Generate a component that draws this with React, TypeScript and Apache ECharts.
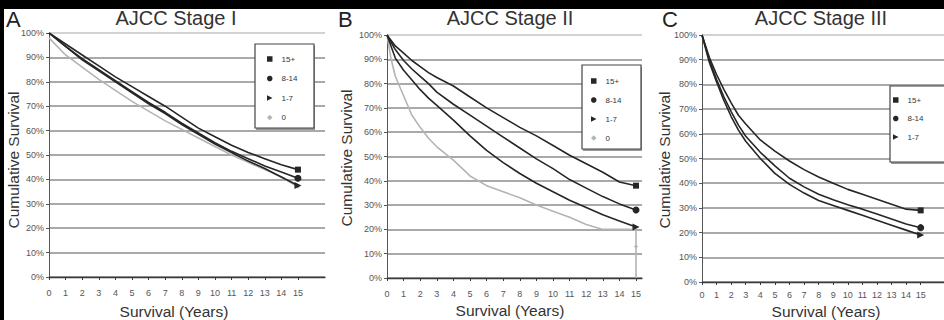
import React, { useEffect, useRef } from "react";
import * as echarts from "echarts";

const groupNames = ["15+", "8-14", "1-7", "0"];
const xTickYears = [0, 1, 2, 3, 4, 5, 6, 7, 8, 9, 10, 11, 12, 13, 14, 15];
const panelTitles = ["AJCC Stage I", "AJCC Stage II", "AJCC Stage III"];
const panelLetters = ["A", "B", "C"];

// Stage I
const stage1Years = [0, 1, 2, 3, 4, 5, 6, 7, 8, 9, 10, 11, 12, 13, 14, 15];
const stage1G15 = [100, 95.5, 91, 86.5, 82, 78, 74, 70, 65.5, 61, 57.5, 54, 51, 48.5, 46, 44];
const stage1G8 = [100, 94.5, 89.5, 85, 80.5, 76, 71.5, 67.5, 63, 59, 55, 51.5, 48.5, 45.5, 43, 40.5];
const stage1G1 = [100, 94.5, 89, 84.5, 80, 75.5, 71, 67, 62.5, 58.5, 54.5, 51, 47.5, 44.5, 41, 37.5];
const stage1G0 = [98, 91, 86, 81, 76.5, 72, 68, 64, 60.5, 57, 53.5, 50, 47, 44, 41, 37];

// Stage II
const stage2Years = [0, 0.5, 1, 1.5, 2, 2.5, 3, 4, 5, 6, 7, 8, 9, 10, 11, 12, 13, 14, 15];
const stage2G15 = [100, 95.5, 92.5, 89.5, 87, 84.5, 82.5, 79, 74.5, 70, 66, 62, 58.5, 54.5, 50.5, 47, 43.5, 39.5, 38];
const stage2G8 = [100, 94, 89.5, 86, 83, 80, 76.5, 71.5, 67, 62.5, 58, 53.5, 49, 45, 40.5, 37, 33.5, 30.5, 28];
const stage2G1 = [100, 90.5, 85.5, 81.5, 77.5, 74, 71, 65, 58.5, 52.5, 47.5, 43, 39, 35.5, 32, 29, 26, 23.5, 21];
const stage2G0Years = [0, 0.25, 0.5, 1, 1.5, 2, 2.5, 3, 4, 5, 6, 7, 8, 9, 10, 11, 12, 13, 14, 15, 15];
const stage2G0 = [100, 90, 83, 75, 67, 62, 57.5, 54, 48.5, 42, 38, 35.5, 33, 30, 27.5, 25, 22, 20, 20, 20, 0];
const stage2G0EndMarker = 13;

// Stage III
const stage3Years = [0, 0.5, 1, 1.5, 2, 2.5, 3, 4, 5, 6, 7, 8, 9, 10, 11, 12, 13, 14, 15];
const stage3G15 = [100, 91, 84, 78, 72.5, 67.5, 64, 57.5, 53, 49, 45.5, 42.5, 40, 37.5, 35.5, 33.5, 31.5, 29.5, 29];
const stage3G8 = [100, 90, 82, 75, 69, 63.5, 59, 52.5, 47, 42, 38.5, 35.5, 33.3, 31.3, 29.5, 27.5, 25.5, 23.5, 22];
const stage3G1 = [100, 89, 81, 73.5, 67, 61.5, 57, 50, 44, 39.5, 36, 33, 31, 29, 27, 25, 23, 21, 19];

const FONT = "'Liberation Sans', Arial, sans-serif";
const DARK = "#262626";
const GRAY = "#b4b4b4";
const TRI = "path://M0,0L10,5L0,10Z";
const groupSymbols = ["rect", "circle", TRI, "diamond"];
const groupColors = [DARK, DARK, DARK, GRAY];
const groupSizes = [6, 7, 7, 4];

const zip = (xs: number[], ys: number[]) => xs.map((x, i) => [x, ys[i]]);

function lineSeries(idx: number, g: number, xs: number[], ys: number[], markLast = true) {
  const pts = zip(xs, ys);
  const last = pts.length - 1;
  return {
    type: "line",
    name: groupNames[g],
    xAxisIndex: idx,
    yAxisIndex: idx,
    symbol: "none",
    showSymbol: true,
    smooth: false,
    z: g === 3 ? 2 : 3,
    itemStyle: { color: groupColors[g] },
    lineStyle: { color: groupColors[g], width: 1.6 },
    data: pts.map((p, i) =>
      i === last && markLast
        ? { value: p, symbol: groupSymbols[g], symbolSize: groupSizes[g] }
        : p
    ),
  };
}

export default function App() {
  const ref = useRef<HTMLDivElement>(null);
  useEffect(() => {
    document.body.style.margin = "0";
    const chart = echarts.init(ref.current!, null, { renderer: "svg" });

    const grids = [
      { left: 49, top: 33, width: 276, height: 244, xmax: 16.63, labelMargin: 11 },
      { left: 387, top: 35, width: 255, height: 243, xmax: 15.36, labelMargin: 11 },
      { left: 702, top: 35, width: 261, height: 247, xmax: 16.6, labelMargin: 8 },
    ];

    const splitColors = ["#8c8c8c", "#8c8c8c", "#8c8c8c", "#8c8c8c", "#8c8c8c", "#8c8c8c", "#8c8c8c", "#8c8c8c", "#8c8c8c", "#8c8c8c", "#c4c4c4"];

    const xAxes = grids.map((g, i) => ({
      type: "value",
      gridIndex: i,
      min: 0,
      max: g.xmax,
      interval: 1,
      splitLine: { show: false },
      axisLine: { show: true, lineStyle: { color: "#3a3a3a", width: 1.3 } },
      axisTick: { show: true, length: 3, customValues: xTickYears, lineStyle: { color: "#3a3a3a" } },
      axisLabel: {
        customValues: xTickYears,
        margin: g.labelMargin,
        fontSize: 9,
        color: "#555",
        fontFamily: FONT,
      },
    }));

    const yAxes = grids.map((g, i) => ({
      type: "value",
      gridIndex: i,
      min: 0,
      max: 100,
      interval: 10,
      splitLine: { show: true, lineStyle: { color: splitColors, width: 1.5 } },
      axisLine: { show: true, lineStyle: { color: "#555", width: 1 } },
      axisTick: { show: true, length: 3, lineStyle: { color: "#555" } },
      axisLabel: { formatter: "{value}%", fontSize: 9, margin: 5, color: "#555", fontFamily: FONT },
    }));

    const series: any[] = [
      lineSeries(0, 3, stage1Years, stage1G0),
      lineSeries(0, 2, stage1Years, stage1G1),
      lineSeries(0, 1, stage1Years, stage1G8),
      lineSeries(0, 0, stage1Years, stage1G15),
      {
        ...lineSeries(1, 3, stage2G0Years, stage2G0, false),
        markPoint: {
          symbol: "diamond",
          symbolSize: 4,
          label: { show: false },
          itemStyle: { color: GRAY },
          data: [{ coord: [15, stage2G0EndMarker] }],
        },
      },
      lineSeries(1, 2, stage2Years, stage2G1),
      lineSeries(1, 1, stage2Years, stage2G8),
      lineSeries(1, 0, stage2Years, stage2G15),
      lineSeries(2, 2, stage3Years, stage3G1),
      lineSeries(2, 1, stage3Years, stage3G8),
      lineSeries(2, 0, stage3Years, stage3G15),
    ];

    const legendDefs = [
      { left: 267, top: 55, gap: 11.5, count: 4 },
      { left: 591, top: 77, gap: 11, count: 4 },
      { left: 893, top: 96, gap: 10.5, count: 3 },
    ];
    const legends = legendDefs.map((l) => ({
      orient: "vertical",
      left: l.left,
      top: l.top,
      padding: 0,
      itemGap: l.gap,
      itemWidth: 5.5,
      itemHeight: 5.5,
      selectedMode: false,
      z: 6,
      textStyle: { fontSize: 8, color: "#333", fontFamily: FONT, padding: [0, 0, 0, 4] },
      data: groupNames.slice(0, l.count).map((n, g) => ({
        name: n,
        icon: groupSymbols[g],
        itemStyle: { color: groupColors[g] },
      })),
    }));

    const legendBoxes = [
      { x: 255, y: 44, w: 59, h: 84 },
      { x: 582, y: 65, w: 59, h: 84 },
      { x: 890, y: 86, w: 70, h: 76 },
    ];

    const titleX = [176, 510, 821];
    const xTitle = [
      [174, 311],
      [510, 310],
      [826, 311],
    ];
    const yTitle = [
      [13, 160],
      [346, 158],
      [664, 160],
    ];
    const letterX = [6, 338, 662];

    const graphic: any[] = [];
    legendBoxes.forEach((b) => {
      graphic.push({
        type: "rect",
        z: 1,
        shape: { x: b.x + 1, y: b.y + 2, width: b.w, height: b.h },
        style: { fill: "#9a9a9a" },
      });
      graphic.push({
        type: "rect",
        z: 1,
        shape: { x: b.x, y: b.y, width: b.w, height: b.h },
        style: { fill: "#fff", stroke: "#444", lineWidth: 1.2 },
      });
    });
    panelTitles.forEach((t, i) => {
      graphic.push({
        type: "text",
        x: titleX[i],
        y: 18,
        style: { text: t, font: `20px ${FONT}`, fill: "#333", align: "center", verticalAlign: "middle" },
      });
      graphic.push({
        type: "text",
        x: xTitle[i][0],
        y: xTitle[i][1],
        style: { text: "Survival (Years)", font: `15.5px ${FONT}`, fill: "#333", align: "center", verticalAlign: "middle" },
      });
      graphic.push({
        type: "text",
        x: yTitle[i][0],
        y: yTitle[i][1],
        rotation: Math.PI / 2,
        style: { text: "Cumulative Survival", font: `15.5px ${FONT}`, fill: "#333", align: "center", verticalAlign: "middle" },
      });
      graphic.push({
        type: "text",
        x: letterX[i],
        y: 19,
        style: { text: panelLetters[i], font: `22px ${FONT}`, fill: "#222", align: "left", verticalAlign: "middle" },
      });
    });
    graphic.push({ type: "rect", z: 10, shape: { x: 0, y: 0, width: 944, height: 9 }, style: { fill: "#000" } });
    graphic.push({ type: "rect", z: 10, shape: { x: 0, y: 0, width: 4, height: 320 }, style: { fill: "#000" } });

    chart.setOption({
      animation: false,
      backgroundColor: "#fff",
      grid: grids.map((g) => ({ left: g.left, top: g.top, width: g.width, height: g.height })),
      xAxis: xAxes,
      yAxis: yAxes,
      legend: legends,
      series,
      graphic,
    });
    return () => chart.dispose();
  }, []);
  return <div ref={ref} style={{ width: 944, height: 320 }} />;
}
